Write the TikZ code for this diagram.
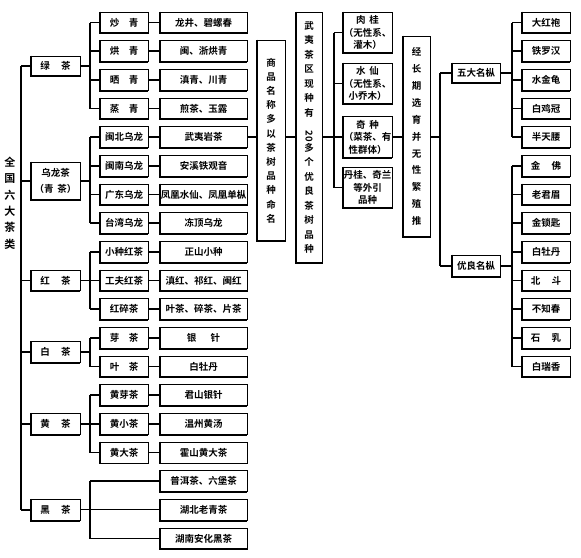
\documentclass[tikz,border=0pt]{standalone}
\usepackage{fontspec}
\newfontfamily\cjk{Noto Sans CJK SC Bold}
\begin{document}
\begin{tikzpicture}[x=1pt,y=-1pt,
  box/.style={draw, line width=0.7pt, fill=white, inner sep=0pt, align=center,
    font=\cjk\fontsize{9.5}{12}\selectfont},
  l2/.style={box, minimum width=48, minimum height=21},
  l3/.style={box, minimum width=87, minimum height=21},
  vtext/.style={box, font=\cjk\fontsize{9.5}{#1}\selectfont},
  conn/.style={line width=1.5pt},
  thinc/.style={line width=0.8pt},
  shade/.style={line width=1.8pt}]
\useasboundingbox (0,0) rectangle (581,557);

% root text
\node[align=center, font=\cjk\fontsize{11}{16.4}\selectfont] (root) at (10,203) {全\\国\\六\\大\\茶\\类};

% level 1
\node[box, minimum width=49, minimum height=20] (lv) at (55.5,66) {绿\hspace{1.2em}茶};
\node[box, minimum width=49, minimum height=38, font=\cjk\fontsize{9.5}{16}\selectfont] (wl) at (55.5,181) {乌龙茶\\（青\hspace{0.4em}茶）};
\node[box, minimum width=49, minimum height=20] (hong) at (55.5,280.5) {红\hspace{1.2em}茶};
\node[box, minimum width=49, minimum height=21] (bai) at (55.5,352) {白\hspace{1.2em}茶};
\node[box, minimum width=49, minimum height=21] (huang) at (55.5,423.8) {黄\hspace{1.2em}茶};
\node[box, minimum width=49, minimum height=21] (hei) at (55.5,509.8) {黑\hspace{1.2em}茶};

% level 2 and 3
\foreach \i/\t/\u in {
 1/{炒\hspace{1em}青}/{龙井、碧螺春},
 2/{烘\hspace{1em}青}/{闽、浙烘青},
 3/{晒\hspace{1em}青}/{滇青、川青},
 4/{蒸\hspace{1em}青}/{煎茶、玉露},
 5/{闽北乌龙}/{武夷岩茶},
 6/{闽南乌龙}/{安溪铁观音},
 7/{广东乌龙}/{凤凰水仙、凤凰单枞},
 8/{台湾乌龙}/{冻顶乌龙},
 9/{小种红茶}/{正山小种},
 10/{工夫红茶}/{滇红、祁红、闽红},
 11/{红碎茶}/{叶茶、碎茶、片茶},
 12/{芽\hspace{1em}茶}/{银\hspace{1.5em}针},
 13/{叶\hspace{1em}茶}/{白牡丹},
 14/{黄芽茶}/{君山银针},
 15/{黄小茶}/{温州黄汤},
 16/{黄大茶}/{霍山黄大茶}}
{
 \node[l2] (s\i) at (124,{22.5+(\i-1)*28.67}) {\t};
 \node[l3] (t\i) at (203.5,{22.5+(\i-1)*28.67}) {\u};
 \draw[conn] (s\i.east) -- (t\i.west);
 \draw[shade] (s\i.north west) -- (s\i.south west) -- (s\i.south east);
 \draw[shade] (t\i.north west) -- (t\i.south west) -- (t\i.south east);
}
\node[l3] (t17) at (203.5,481.2) {普洱茶、六堡茶};
\node[l3] (t18) at (203.5,509.8) {湖北老青茶};
\node[l3] (t19) at (203.5,538.5) {湖南安化黑茶};
\foreach \n in {t17,t18,t19,lv,wl,hong,bai,huang,hei}
  \draw[shade] (\n.north west) -- (\n.south west) -- (\n.south east);

% trunk
\coordinate (trTop) at (21,66);
\coordinate (trBot) at (21,509.8);
\draw[conn] (trTop) -- (trBot);
\foreach \n in {lv,wl,hong,bai,huang,hei}
  \draw[conn] (\n.west) -- (\n.west -| trTop);

% group connectors
\foreach \p/\a/\b in {lv/1/4, wl/5/8, hong/9/11, bai/12/13, huang/14/16}{
  \coordinate (g\p) at (90,0);
  \draw[conn] (s\a.west -| g\p) -- (s\b.west -| g\p);
  \draw[conn] (\p.east) -- (\p.east -| g\p);
  \foreach \k in {\a,...,\b} \draw[conn] (s\k.west -| g\p) -- (s\k.west);
}
\coordinate (ghei) at (90,0);
\draw[conn] (t17.west -| ghei) -- (t19.west -| ghei);
\draw[conn] (t17.west -| ghei) -- (t17.west);
\draw[conn] (t19.west -| ghei) -- (t19.west);
\draw[thinc] (hei.east) -- (t18.west);

% middle vertical boxes
\node[vtext=14.2, minimum width=28, minimum height=201] (shp) at (271,140.5)
  {商\\品\\名\\称\\多\\以\\茶\\树\\品\\种\\命\\名};
\node[vtext=14.5, minimum width=26, minimum height=251] (wuyi) at (309,137.5)
  {武\\夷\\茶\\区\\现\\种\\有\\\rotatebox{-90}{20}\\多\\个\\优\\良\\茶\\树\\品\\种};
\draw[conn] (t5.east) -- (t5.east -| shp.west);
\draw[conn] (t5.east -| shp.east) -- (t5.east -| wuyi.west);

% varieties
\node[box, minimum width=49, minimum height=41, font=\cjk\fontsize{9.5}{12.5}\selectfont] (rg) at (367.5,32.5) {肉\hspace{0.4em}桂\\（无性系、\\灌木）};
\node[box, minimum width=49, minimum height=41, font=\cjk\fontsize{9.5}{12.5}\selectfont] (sx) at (367.5,83.5) {水\hspace{0.4em}仙\\（无性系、\\小乔木）};
\node[box, minimum width=49, minimum height=41, font=\cjk\fontsize{9.5}{12.5}\selectfont] (qz) at (367.5,137) {奇\hspace{0.4em}种\\（菜茶、有\\性群体）};
\node[box, minimum width=49, minimum height=41, font=\cjk\fontsize{9.5}{12.5}\selectfont] (dg) at (367.5,187.5) {丹桂、奇兰\\等外引\\品种};
\foreach \n in {shp,wuyi,rg,sx,qz,dg}
  \draw[shade] (\n.north west) -- (\n.south west) -- (\n.south east);
\coordinate (gv) at (334,0);
\draw[conn] (rg.west -| gv) -- (dg.west -| gv);
\foreach \n in {rg,sx,dg} \draw[conn] (\n.west -| gv) -- (\n.west);
\draw[conn] (wuyi.east |- qz.west) -- (qz.west);

% jing box
\node[vtext=16.9, minimum width=27, minimum height=201] (jing) at (416.5,136.5)
  {经\\长\\期\\选\\育\\并\\无\\性\\繁\\殖\\推};
\draw[shade] (jing.north west) -- (jing.south west) -- (jing.south east);
\draw[conn] (qz.east) -- (qz.east -| jing.west);

% famous bushes
\node[box, minimum width=48, minimum height=20] (wd) at (476,73) {五大名枞};
\node[box, minimum width=48, minimum height=22] (yl) at (476,266) {优良名枞};
\foreach \n in {wd,yl}
  \draw[shade] (\n.north west) -- (\n.south west) -- (\n.south east);
\coordinate (gj) at (440,0);
\draw[conn] (wd.west -| gj) -- (yl.west -| gj);
\draw[conn] (wd.west -| gj) -- (wd.west);
\draw[conn] (yl.west -| gj) -- (yl.west);
\draw[conn] (jing.east |- qz.east) -- (qz.east -| gj);

\foreach \i/\t in {1/大红袍,2/铁罗汉,3/水金龟,4/白鸡冠,5/半天腰,
  6/{金\hspace{1.2em}佛},7/老君眉,8/金锁匙,9/白牡丹,10/{北\hspace{1.2em}斗},
  11/不知春,12/{石\hspace{1.2em}乳},13/白瑞香}
{
 \node[l2] (r\i) at (546,{22.5+(\i-1)*28.67}) {\t};
 \draw[shade] (r\i.north west) -- (r\i.south west) -- (r\i.south east);
}
\coordinate (gr) at (512,0);
\draw[conn] (r1.west -| gr) -- (r5.west -| gr);
\draw[conn] (r6.west -| gr) -- (r13.west -| gr);
\foreach \k in {1,...,13} \draw[conn] (r\k.west -| gr) -- (r\k.west);
\draw[conn] (wd.east) -- (wd.east -| gr);
\draw[conn] (yl.east) -- (yl.east -| gr);
\end{tikzpicture}
\end{document}
